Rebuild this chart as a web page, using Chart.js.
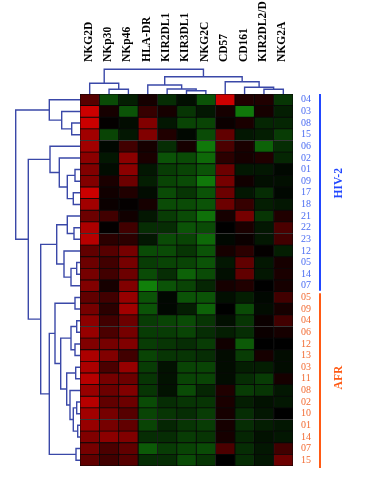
<!DOCTYPE html>
<html>
<head>
<meta charset="utf-8">
<script src="https://cdn.jsdelivr.net/npm/chart.js@4.4.1/dist/chart.umd.min.js"></script>
<style>
  html, body { margin: 0; padding: 0; background: #fff; }
  #wrap { position: relative; width: 366px; height: 480px; overflow: hidden; }
  canvas { position: absolute; }
  #left-tree { left: 0; top: 90px; }
  #top-tree { left: 76px; top: 0; }
  #heatmap { left: 76px; top: 90px; }
</style>
</head>
<body>
<div id="wrap">
  <canvas id="left-tree" width="84" height="380"></canvas>
  <canvas id="top-tree" width="221" height="98"></canvas>
  <canvas id="heatmap" width="290" height="384"></canvas>
</div>
<script>
const markers = ["NKG2D", "NKp30", "NKp46", "HLA-DR", "KIR2DL1", "KIR3DL1",
  "NKG2C", "CD57", "CD161", "KIR2DL2/D", "NKG2A"];

const rowLabels = ["04", "03", "08", "15", "06", "02", "01", "09", "17", "18",
  "21", "22", "23", "12", "05", "14", "07",
  "05", "09", "04", "06", "12", "13", "03", "11", "08", "02", "10", "01", "14", "07", "15"];
const rowGroups = ["HIV-2", "HIV-2", "HIV-2", "HIV-2", "HIV-2", "HIV-2", "HIV-2", "HIV-2",
  "HIV-2", "HIV-2", "HIV-2", "HIV-2", "HIV-2", "HIV-2", "HIV-2", "HIV-2", "HIV-2",
  "AFR", "AFR", "AFR", "AFR", "AFR", "AFR", "AFR", "AFR", "AFR", "AFR", "AFR", "AFR", "AFR", "AFR", "AFR"];

const groupNames = ["HIV-2", "AFR"];
const groupLabelColors = ["#4a6cf2", "#f26b32"];
const groupLineColors = ["#2248ff", "#ff5a14"];

// expression relative to mean: + red, - green
const nkg2d = [0.4, 0.95, 0.95, 0.75, 0.75, 0.65, 0.6, 0.6, 0.95, 0.75, 0.5, 0.8, 0.85, 0.45, 0.5, 0.55, 0.6,
  0.45, 0.55, 0.65, 0.7, 0.6, 0.8, 0.8, 0.85, 0.7, 0.85, 0.75, 0.7, 0.6, 0.55, 0.45];
const nkp30 = [-0.5, 0.1, 0.02, -0.45, -0.05, -0.15, -0.08, 0.12, 0.08, 0.05, 0.3, 0.02, 0.2, 0.4, 0.3, 0.3, 0.1,
  0.3, 0.2, 0.3, 0.35, 0.55, 0.6, 0.35, 0.55, 0.5, 0.45, 0.55, 0.55, 0.65, 0.35, 0.3];
const nkp46 = [-0.2, -0.55, -0.08, -0.15, 0.3, 0.65, 0.65, 0.5, 0.15, 0.02, 0.08, 0.3, 0.2, 0.55, 0.55, 0.5, 0.6,
  0.7, 0.75, 0.5, 0.55, 0.6, 0.3, 0.7, 0.5, 0.6, 0.5, 0.4, 0.45, 0.6, 0.45, 0.4];
const hladr = [0.1, 0.25, 0.6, 0.6, 0.1, 0.12, -0.15, -0.2, -0.08, 0.1, -0.15, -0.3, -0.15, -0.5, -0.4, -0.5, -0.85,
  -0.55, -0.55, -0.4, -0.4, -0.4, -0.45, -0.4, -0.35, -0.35, -0.5, -0.45, -0.45, -0.3, -0.6, -0.3];
const kir2dl1 = [-0.3, 0.1, -0.15, 0.15, -0.3, -0.55, -0.4, -0.45, -0.5, -0.5, -0.4, -0.3, -0.5, -0.5, -0.45, -0.3, -0.55,
  -0.05, -0.05, -0.45, -0.4, -0.35, -0.35, -0.12, -0.12, -0.12, -0.3, -0.35, -0.25, -0.3, -0.4, -0.3];
const kir3dl1 = [-0.1, -0.35, -0.45, -0.05, 0.1, -0.5, -0.45, -0.5, -0.35, -0.5, -0.5, -0.55, -0.45, -0.35, -0.45, -0.65, -0.45,
  -0.55, -0.2, -0.5, -0.45, -0.3, -0.35, -0.45, -0.45, -0.5, -0.35, -0.3, -0.35, -0.4, -0.45, -0.5];
const nkg2c = [-0.55, -0.15, -0.45, -0.5, -0.8, -0.7, -0.55, -0.8, -0.55, -0.55, -0.75, -0.5, -0.7, -0.55, -0.55, -0.5, -0.25,
  -0.55, -0.65, -0.35, -0.3, -0.4, -0.3, -0.45, -0.45, -0.25, -0.35, -0.4, -0.4, -0.35, -0.5, -0.35];
const cd57 = [0.95, 0.1, 0.05, 0.45, 0.35, 0.2, 0.5, 0.55, 0.5, 0.5, 0.1, 0, -0.05, 0.1, -0.15, -0.1, 0.1,
  -0.1, 0, -0.1, -0.2, 0.08, -0.08, -0.08, -0.08, 0.15, 0.12, 0.1, 0.1, 0.1, 0.35, 0];
const cd161 = [0.15, -0.8, 0.12, -0.15, 0.12, 0.1, -0.15, 0.08, -0.15, 0.25, 0.55, 0.12, 0.05, 0.2, 0.45, 0.45, 0.15,
  -0.2, -0.5, -0.35, -0.3, -0.6, -0.4, -0.2, -0.3, -0.4, -0.2, -0.3, -0.3, -0.25, -0.3, -0.3];
const kir2dl2 = [0.15, 0.1, -0.25, -0.2, -0.65, 0.15, -0.15, -0.1, -0.3, -0.2, -0.35, -0.15, -0.15, 0.02, -0.15, -0.15, 0,
  -0.05, -0.08, 0.05, 0.05, 0, 0.1, -0.2, -0.4, -0.35, -0.12, -0.15, -0.2, -0.12, -0.15, -0.15];
const nkg2a = [-0.35, -0.2, -0.25, -0.4, -0.3, -0.25, -0.05, -0.1, -0.05, -0.15, 0.15, 0.35, 0.3, -0.2, 0.1, 0.12, 0.1,
  0.3, 0.1, 0.3, 0.1, 0, -0.08, -0.08, 0.1, -0.15, -0.15, 0, -0.15, -0.15, 0.3, 0.5];

const markerValues = [nkg2d, nkp30, nkp46, hladr, kir2dl1, kir3dl1, nkg2c, cd57, cd161, kir2dl2, nkg2a];

// linkage: [childA, childB, height]; index >= leaf count refers to an earlier merge
const colMerges = [
  [1, 2, 4.7], [0, 11, 10.7], [5, 6, 3.3], [4, 13, 5], [3, 14, 9],
  [9, 10, 4.7], [8, 16, 6.7], [7, 17, 12.3], [15, 18, 17.3], [12, 19, 24.7],
];
const rowMerges = [
  [2, 3, 8.3], [1, 32, 18.3], [0, 33, 30.7],
  [6, 7, 5], [8, 9, 6.7], [35, 36, 12.7], [5, 37, 20.7], [4, 38, 30],
  [11, 12, 6], [10, 40, 12.7], [14, 15, 3.3], [42, 16, 9], [13, 43, 16], [41, 44, 23.3],
  [17, 18, 5], [19, 20, 3.3], [21, 22, 5], [47, 48, 9], [23, 24, 4.3],
  [26, 27, 3.3], [28, 29, 2.3], [51, 52, 6.7], [25, 53, 10], [50, 54, 13.3],
  [49, 55, 19.3], [46, 56, 25], [30, 31, 4], [57, 58, 30.7],
  [45, 59, 39.3], [39, 60, 51.7], [34, 61, 64.3],
];

const TREE_COLOR = "#3a48a8";
const SERIF = "'Liberation Serif', 'DejaVu Serif', serif";

function cellColor(v) {
  const a = Math.min(Math.abs(v), 1);
  if (v >= 0) {
    return `rgb(${Math.round(215 * a)},0,0)`;
  }
  return `rgb(${Math.round(20 * a)},${Math.round(150 * a)},${Math.round(12 * a)})`;
}

function treeSegments(merges, leafCount) {
  const pos = [];
  const height = [];
  for (let i = 0; i < leafCount; i++) {
    pos.push(i + 0.5);
    height.push(0);
  }
  const segments = [];
  for (const [a, b, h] of merges) {
    segments.push([[pos[a], height[a]], [pos[a], h], [pos[b], h], [pos[b], height[b]]]);
    pos.push((pos[a] + pos[b]) / 2);
    height.push(h);
  }
  return segments;
}

function treeDataset(points) {
  return {
    data: points,
    showLine: true,
    borderColor: TREE_COLOR,
    borderWidth: 1.4,
    pointRadius: 0,
    fill: false,
    clip: false,
  };
}

const baseOptions = {
  responsive: false,
  animation: false,
  devicePixelRatio: 1,
  plugins: { legend: { display: false }, tooltip: { enabled: false } },
};

// column names written upward above the column tree, one per column of the x scale
const columnLabels = {
  id: "columnLabels",
  afterDraw(chart) {
    const { ctx, chartArea } = chart;
    const x = chart.scales.x;
    ctx.save();
    ctx.fillStyle = "#000";
    ctx.font = `bold 11.5px ${SERIF}`;
    ctx.textAlign = "left";
    ctx.textBaseline = "middle";
    markers.forEach((name, i) => {
      ctx.save();
      ctx.translate(x.getPixelForValue(i + 0.5) - 1, chartArea.top - 2);
      ctx.rotate(-Math.PI / 2);
      ctx.fillText(name, 0, 0);
      ctx.restore();
    });
    ctx.restore();
  },
};

new Chart(document.getElementById("top-tree"), {
  type: "scatter",
  data: {
    datasets: treeSegments(colMerges, markers.length).map((seg) =>
      treeDataset(seg.map(([p, h]) => ({ x: p, y: h })))
    ),
  },
  options: {
    ...baseOptions,
    layout: { padding: { left: 4, right: 4, top: 64, bottom: 4 } },
    scales: {
      x: { type: "linear", display: false, min: 0, max: markers.length },
      y: { type: "linear", display: false, min: 0, max: 30 },
    },
  },
  plugins: [columnLabels],
});

new Chart(document.getElementById("left-tree"), {
  type: "scatter",
  data: {
    datasets: treeSegments(rowMerges, rowLabels.length).map((seg) =>
      treeDataset(seg.map(([p, h]) => ({ x: h, y: p })))
    ),
  },
  options: {
    ...baseOptions,
    layout: { padding: { left: 0, right: 4, top: 4, bottom: 4 } },
    scales: {
      x: { type: "linear", display: false, min: 0, max: 80, reverse: true },
      y: { type: "linear", display: false, min: 0, max: rowLabels.length, reverse: true },
    },
  },
});

const groupBrackets = {
  id: "groupBrackets",
  afterDraw(chart) {
    const { ctx, chartArea } = chart;
    const y = chart.scales.y;
    const half = (y.getPixelForValue(1) - y.getPixelForValue(0)) / 2;
    groupNames.forEach((name, g) => {
      const first = rowGroups.indexOf(name);
      const last = rowGroups.lastIndexOf(name);
      const top = y.getPixelForValue(first) - half + (g > 0 ? 1.5 : 0);
      const bottom = y.getPixelForValue(last) + half + (g > 0 ? 2 : -1);
      const x = chartArea.right + 27;
      ctx.save();
      ctx.strokeStyle = groupLineColors[g];
      ctx.lineWidth = 2;
      ctx.beginPath();
      ctx.moveTo(x, top);
      ctx.lineTo(x, bottom);
      ctx.stroke();
      ctx.translate(chartArea.right + 46, (top + bottom) / 2 - (g === 0 ? 9 : 3));
      ctx.rotate(-Math.PI / 2);
      ctx.fillStyle = groupLineColors[g];
      ctx.font = `bold 11.5px ${SERIF}`;
      ctx.textAlign = "center";
      ctx.textBaseline = "middle";
      ctx.fillText(name, 0, 0);
      ctx.restore();
    });
  },
};

new Chart(document.getElementById("heatmap"), {
  type: "bar",
  data: {
    labels: rowLabels,
    datasets: markerValues.map((values, c) => ({
      label: markers[c],
      data: values.map(() => [c, c + 1]),
      backgroundColor: values.map(cellColor),
      borderColor: "#080808",
      borderWidth: 0.8,
      borderSkipped: false,
      barPercentage: 1,
      categoryPercentage: 1,
      grouped: false,
    })),
  },
  options: {
    ...baseOptions,
    indexAxis: "y",
    layout: { padding: { left: 4, right: 0, top: 4, bottom: 8 } },
    scales: {
      x: { display: false, min: 0, max: markers.length },
      y: {
        position: "right",
        grid: { display: false, drawTicks: false },
        border: { display: false },
        afterFit: (scale) => {
          scale.width = 73;
          scale.paddingTop = 0;
          scale.paddingBottom = 0;
        },
        ticks: {
          autoSkip: false,
          padding: 8,
          font: { family: SERIF, size: 10 },
          color: (ctx) => groupLabelColors[groupNames.indexOf(rowGroups[ctx.index])],
        },
      },
    },
  },
  plugins: [groupBrackets],
});
</script>
</body>
</html>
